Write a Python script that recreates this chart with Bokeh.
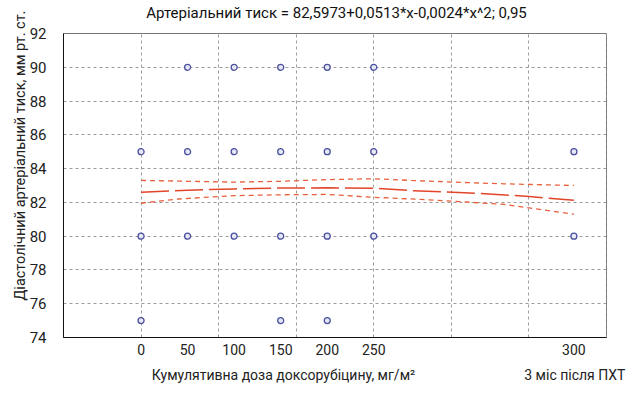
import math
from bokeh.plotting import figure
from bokeh.models import FixedTicker, LinearAxis, Range1d
from bokeh.embed import file_html
from bokeh.resources import INLINE

# data
pts_x = [50, 100, 150, 200, 250,
         0, 50, 100, 150, 200, 250, 465,
         0, 50, 100, 150, 200, 250, 465,
         0, 150, 200]
pts_y = [90, 90, 90, 90, 90,
         85, 85, 85, 85, 85, 85, 85,
         80, 80, 80, 80, 80, 80, 80,
         75, 75, 75]

fit_x = [0, 50, 100, 150, 200, 250, 290, 335, 365, 417, 465]
fit_y = [82.6, 82.72, 82.8, 82.85, 82.86, 82.84, 82.7, 82.6, 82.53, 82.35, 82.12]
up_x = [0, 50, 100, 150, 200, 250, 290, 335, 390, 465]
up_y = [83.3, 83.25, 83.2, 83.25, 83.35, 83.4, 83.3, 83.2, 83.1, 83.0]
lo_x = [0, 40, 100, 150, 200, 250, 300, 335, 390, 465]
lo_y = [81.95, 82.2, 82.4, 82.45, 82.47, 82.3, 82.18, 82.07, 81.88, 81.3]

tick_pos = [0, 50, 100, 150, 200, 250, 465]
tick_lab = ["0", "50", "100", "150", "200", "250", "300"]
grid_x = [-83.33 + 83.333 * i for i in range(8)]
y_ticks = [74, 76, 78, 80, 82, 84, 86, 88, 90, 92]

title_text = "Артеріальний тиск = 82,5973+0,0513*x-0,0024*x^2; 0,95"
xlab1 = "Кумулятивна доза доксорубіцину, мг/м²"
xlab2 = "3 міс після ПХТ"
ylab = "Діастолічний артеріальний тиск, мм рт. ст."

FONT = "Roboto"
TXT = "#222222"

p = figure(width=626, height=393, output_backend="svg", toolbar_location=None,
           x_range=Range1d(-83.33, 500), y_range=Range1d(74, 92),
           min_border_left=63, min_border_right=20, min_border_top=33,
           min_border_bottom=56)

p.outline_line_color = "#777777"
p.background_fill_color = "white"


def bare(ax, size, standoff):
    ax.axis_line_color = None
    ax.major_tick_line_color = None
    ax.minor_tick_line_color = None
    ax.major_label_text_font = FONT
    ax.major_label_text_font_size = size
    ax.major_label_text_color = TXT
    ax.major_label_standoff = standoff


# axes
xa = p.xaxis[0]
xa.ticker = FixedTicker(ticks=tick_pos)
xa.major_label_overrides = {k: v for k, v in zip(tick_pos, tick_lab)}
bare(xa, "14px", 0)
xa.axis_line_color = "#111111"

ya = p.yaxis[0]
ya.ticker = FixedTicker(ticks=y_ticks)
bare(ya, "15px", 11)
ya.axis_line_color = "#111111"

# title row (centred over the frame)
t_pos = 210
ta = LinearAxis(ticker=FixedTicker(ticks=[t_pos]),
                major_label_overrides={t_pos: title_text})
bare(ta, "15px", 6)
ta.major_label_text_color = "#111111"
p.add_layout(ta, "above")

# y axis title (centred on the full figure height)
yl_pos = 82.35
yla = LinearAxis(ticker=FixedTicker(ticks=[yl_pos]),
                 major_label_overrides={yl_pos: ylab},
                 major_label_orientation=math.pi / 2)
bare(yla, "14.5px", 0)
p.add_layout(yla, "left")

# x axis title row
lab_pos = [153, 466]
xa2 = LinearAxis(ticker=FixedTicker(ticks=lab_pos),
                 major_label_overrides={lab_pos[0]: xlab1, lab_pos[1]: xlab2})
bare(xa2, "14px", 3)
p.add_layout(xa2, "below")

p.xgrid.ticker = FixedTicker(ticks=grid_x)
p.ygrid.ticker = FixedTicker(ticks=y_ticks)
for g in (p.xgrid[0], p.ygrid[0]):
    g.grid_line_color = "#9a9a9a"
    g.grid_line_dash = "3 3"
    g.grid_line_width = 1

# curves
p.line(up_x, up_y, line_color="#e8603c", line_width=1.3, line_dash="5 4")
p.line(lo_x, lo_y, line_color="#e8603c", line_width=1.3, line_dash="5 4")
p.line(fit_x, fit_y, line_color="#e2452a", line_width=1.5, line_dash="28 6")

# points
p.scatter(pts_x, pts_y, marker="circle", size=6, line_color="#4a4f9e",
          line_width=1.3, fill_color="#e6e8f5")

open("out.html", "w").write(file_html(p, INLINE))
